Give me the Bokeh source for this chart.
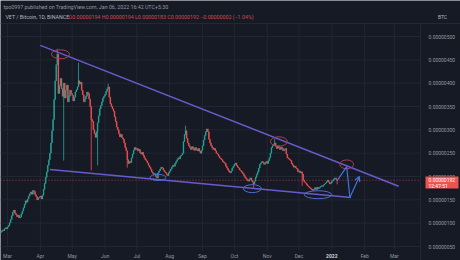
import pandas as pd
from bokeh.plotting import figure
from bokeh.models import Range1d, Label, Arrow, OpenHead, ColumnDataSource
from bokeh.core.properties import value
from bokeh.embed import file_html
from bokeh.resources import INLINE

# ---------------- data (prices in satoshi = 1e-8 BTC) ----------------
first_day = "2021-02-23"
first_open = 80
closes_feb = [82, 85, 84, 88, 90, 88]
closes_mar = [92, 95, 101, 108, 116, 124, 128, 121, 118, 114, 117, 111, 113, 120, 126, 133,
              140, 148, 145, 152, 158, 163, 167, 162, 170, 168, 161, 157, 150, 154, 156]
closes_apr = [158, 152, 160, 172, 185, 198, 210, 224, 236, 250, 272, 298, 322, 365, 405, 440,
              462, 378, 395, 410, 388, 372, 400, 368, 385, 396, 360, 372, 385, 378]
closes_may = [374, 362, 370, 381, 386, 392, 405, 398, 402, 385, 375, 360, 366, 372, 381, 378,
              366, 350, 322, 318, 300, 292, 284, 296, 315, 330, 345, 352, 360, 368, 372]
closes_jun = [376, 382, 388, 392, 370, 356, 350, 345, 340, 328, 318, 306, 300, 292, 285, 290,
              283, 280, 272, 262, 255, 236, 228, 232, 230, 240, 248, 256, 262, 258]
closes_jul = [260, 255, 258, 251, 248, 252, 245, 240, 236, 233, 229, 224, 220, 216, 210, 207,
              204, 206, 200, 197, 208, 212, 216, 220, 218, 214, 210, 208, 204, 202, 208]
closes_aug = [212, 216, 220, 224, 222, 228, 232, 236, 240, 238, 244, 246, 250, 275, 290, 298,
              282, 272, 266, 262, 258, 264, 260, 256, 262, 258, 255, 260, 254, 250, 256]
closes_sep = [266, 278, 288, 296, 302, 296, 280, 272, 266, 262, 258, 260, 255, 250, 248, 244,
              240, 238, 236, 232, 230, 228, 222, 218, 214, 210, 208, 212, 218, 222]
closes_oct = [226, 229, 224, 220, 218, 214, 212, 209, 206, 202, 198, 195, 192, 190, 194, 197,
              192, 188, 184, 190, 198, 204, 210, 218, 226, 229, 232, 230, 226, 229, 232]
closes_nov = [228, 234, 240, 250, 262, 266, 268, 272, 265, 260, 266, 262, 258, 263, 260, 255,
              258, 260, 248, 240, 238, 236, 234, 228, 224, 220, 222, 218, 216, 210]
closes_dec = [212, 208, 210, 205, 192, 188, 186, 183, 180, 178, 176, 174, 172, 170, 173, 176,
              172, 177, 174, 176, 178, 180, 179, 182, 184, 186, 189, 192, 188, 184, 186]
closes_jan = [190, 192, 195, 197, 194, 192]

wick_highs = {"2021-04-17": 474, "2021-05-07": 444, "2021-06-04": 399,
              "2021-08-16": 309, "2021-11-08": 281, "2022-01-06": 194}
wick_lows = {"2021-04-23": 234, "2021-05-19": 213, "2021-05-25": 224,
             "2021-06-22": 219, "2021-10-19": 174, "2021-12-04": 180, "2022-01-06": 183}

price_ticks = [50, 100, 150, 200, 250, 300, 350, 400, 450, 500]
month_ticks = ["2021-03-01", "2021-04-01", "2021-05-01", "2021-06-01", "2021-07-01",
               "2021-08-01", "2021-09-01", "2021-10-01", "2021-11-01", "2021-12-01",
               "2022-01-01", "2022-02-01", "2022-03-01"]
month_labels = ["Mar", "Apr", "May", "Jun", "Jul", "Aug", "Sep", "Oct", "Nov", "Dec",
                "2022", "Feb", "Mar"]

upper_trend_dates = ["2021-04-01", "2022-03-05"]
upper_trend_vals = [481, 179]
lower_trend_dates = ["2021-04-10", "2022-01-19"]
lower_trend_vals = [215, 155]

red_ell_dates = ["2021-04-20", "2021-11-12", "2022-01-15"]
red_ell_vals = [462, 275, 226]
red_ell_w_days = [17, 16, 13]
red_ell_h = [19, 20, 19]
blue_ell_dates = ["2021-07-21", "2021-10-18", "2021-12-19"]
blue_ell_vals = [198, 174, 161]
blue_ell_w_days = [15, 17, 26]
blue_ell_h = [13, 17, 17]

path_dates = ["2022-01-06", "2022-01-15", "2022-01-18"]
path_vals = [191, 221, 155]
arrow_end_date = "2022-01-27"
arrow_end_val = 200

last_price = 192
countdown = "12:47:51"

# ---------------- layout (canvas pixels) ----------------
W, H = 460, 260
VIEW_START = "2021-02-22 09:36"   # date at canvas x = 0
PX_PER_DAY = 1.06
REF_PRICE, REF_PX = 50, 246       # price 50 sat sits at canvas y = 246
SAT_PER_PX = 2.143
PANE_RIGHT, PANE_TOP, PANE_BOTTOM = 420, 23, 250

DAY = 86400000


def ms(s):
    return pd.Timestamp(s).value // 10**6


X0 = ms(VIEW_START)


def xpx(px):
    return X0 + px / PX_PER_DAY * DAY


def ypx(px):
    return REF_PRICE + (REF_PX - px) * SAT_PER_PX


closes = (closes_feb + closes_mar + closes_apr + closes_may + closes_jun + closes_jul +
          closes_aug + closes_sep + closes_oct + closes_nov + closes_dec + closes_jan)
dates = pd.date_range(first_day, periods=len(closes), freq="D")
xs = [d.value // 10**6 for d in dates]
keys = [d.strftime("%Y-%m-%d") for d in dates]
opens = [first_open] + closes[:-1]
highs = [wick_highs.get(k, max(o, c)) for k, o, c in zip(keys, opens, closes)]
lows = [wick_lows.get(k, min(o, c)) for k, o, c in zip(keys, opens, closes)]
UP, DOWN = "#26a69a", "#ef5350"
cols = [UP if c >= o else DOWN for o, c in zip(opens, closes)]
src = ColumnDataSource(dict(x=xs, h=highs, l=lows,
                            top=[max(o, c) for o, c in zip(opens, closes)],
                            bot=[min(o, c) for o, c in zip(opens, closes)], col=cols))

BG = "#161a25"
GRID = "#222632"
TXT = "#9598a1"
FONT = "Roboto"

p = figure(width=W, height=H, output_backend="svg", toolbar_location=None,
           x_range=Range1d(xpx(0), xpx(W)), y_range=Range1d(ypx(H), ypx(0)),
           x_axis_location=None, y_axis_location=None,
           min_border=0, min_border_left=0, min_border_right=0, min_border_top=0,
           min_border_bottom=0,
           background_fill_color=BG, border_fill_color=BG, outline_line_color=None)
p.grid.visible = False

mt = [ms(m) for m in month_ticks]
# grid
p.segment(x0=mt, y0=[ypx(PANE_BOTTOM)] * len(mt), x1=mt, y1=[ypx(PANE_TOP)] * len(mt),
          line_color=GRID, line_width=1)
p.segment(x0=[xpx(0)] * len(price_ticks), y0=price_ticks,
          x1=[xpx(PANE_RIGHT)] * len(price_ticks), y1=price_ticks,
          line_color=GRID, line_width=1)
# pane separators
p.segment(x0=[xpx(PANE_RIGHT)], y0=[ypx(H)], x1=[xpx(PANE_RIGHT)], y1=[ypx(PANE_TOP)],
          line_color="#242835", line_width=1)
p.segment(x0=[xpx(0)], y0=[ypx(PANE_TOP)], x1=[xpx(W)], y1=[ypx(PANE_TOP)],
          line_color="#242835", line_width=1)

# axis labels
p.text(x=mt, y=[ypx(255)] * len(mt), text=[("" if l == "2022" else l) for l in month_labels],
       text_font=value(FONT), text_font_size="5px", text_color=TXT,
       text_align="center", text_baseline="middle")
p.text(x=[ms("2022-01-01")], y=[ypx(255)], text=["2022"],
       text_font=value(FONT), text_font_size="5px", text_color="#d1d4dc",
       text_font_style="bold", text_align="center", text_baseline="middle")
p.text(x=[xpx(428)] * len(price_ticks), y=price_ticks,
       text=[f"{v / 1e8:.8f}" for v in price_ticks],
       text_font=value(FONT), text_font_size="5px", text_color=TXT,
       text_align="left", text_baseline="middle")

# price line
p.segment(x0=[xpx(0)], y0=[last_price], x1=[xpx(PANE_RIGHT)], y1=[last_price],
          line_color=DOWN, line_dash="1 2", line_width=0.8, line_alpha=0.8)

# candles
p.segment(x0="x", y0="l", x1="x", y1="h", line_color="col", line_width=0.8, source=src)
p.vbar(x="x", top="top", bottom="bot", width=0.75 * DAY, fill_color="col",
       line_color="col", line_width=0.4, source=src)

# trend lines
TREND = "#6a5acd"
p.line([ms(d) for d in upper_trend_dates], upper_trend_vals, line_color=TREND, line_width=1.5)
p.line([ms(d) for d in lower_trend_dates], lower_trend_vals, line_color=TREND, line_width=1.5)

# ellipses
p.ellipse(x=[ms(d) for d in red_ell_dates], y=red_ell_vals,
          width=[w * DAY for w in red_ell_w_days], height=red_ell_h,
          fill_color=None, line_color="#a8404f", line_width=1)
p.ellipse(x=[ms(d) for d in blue_ell_dates], y=blue_ell_vals,
          width=[w * DAY for w in blue_ell_w_days], height=blue_ell_h,
          fill_color=None, line_color="#4a6fd0", line_width=1)

# projected path + arrow
ARROWC = "#3f74e0"
p.line([ms(d) for d in path_dates], path_vals, line_color=ARROWC, line_width=1.2)
p.add_layout(Arrow(end=OpenHead(size=5, line_color=ARROWC, line_width=1.2),
                   x_start=ms(path_dates[-1]), y_start=path_vals[-1],
                   x_end=ms(arrow_end_date), y_end=arrow_end_val,
                   line_color=ARROWC, line_width=1.2))


def hdr(x, y, text, color, align="left", size="5.3px"):
    p.add_layout(Label(x=x, y=H - y, x_units="screen", y_units="screen", text=text,
                       text_font=FONT, text_font_size=size, text_color=color,
                       text_baseline="middle", text_align=align))


hdr(3, 6, "tpo0997 published on TradingView.com, Jan 06, 2022 16:42 UTC+5:30", TXT)
hdr(5, 16, "VET / Bitcoin, 1D, BINANCE", "#b2b5be")
hdr(68, 16, "O0.00000194 H0.00000194 L0.00000183 C0.00000192 \u22120.00000002 (\u22121.04%)",
    "#d8474f")
hdr(442, 16, "BTC", "#b2b5be", align="center", size="5px")

# last price tag
p.quad(left=[xpx(425)], right=[xpx(458)], top=[ypx(176)], bottom=[ypx(188)],
       fill_color=DOWN, line_color=None)
p.text(x=[xpx(428)] * 2, y=[ypx(179.5), ypx(185)],
       text=[f"{last_price / 1e8:.8f}", countdown],
       text_font=value(FONT), text_font_size="5px", text_color="#ffffff",
       text_align="left", text_baseline="middle")

open("out.html", "w").write(file_html(p, INLINE))
